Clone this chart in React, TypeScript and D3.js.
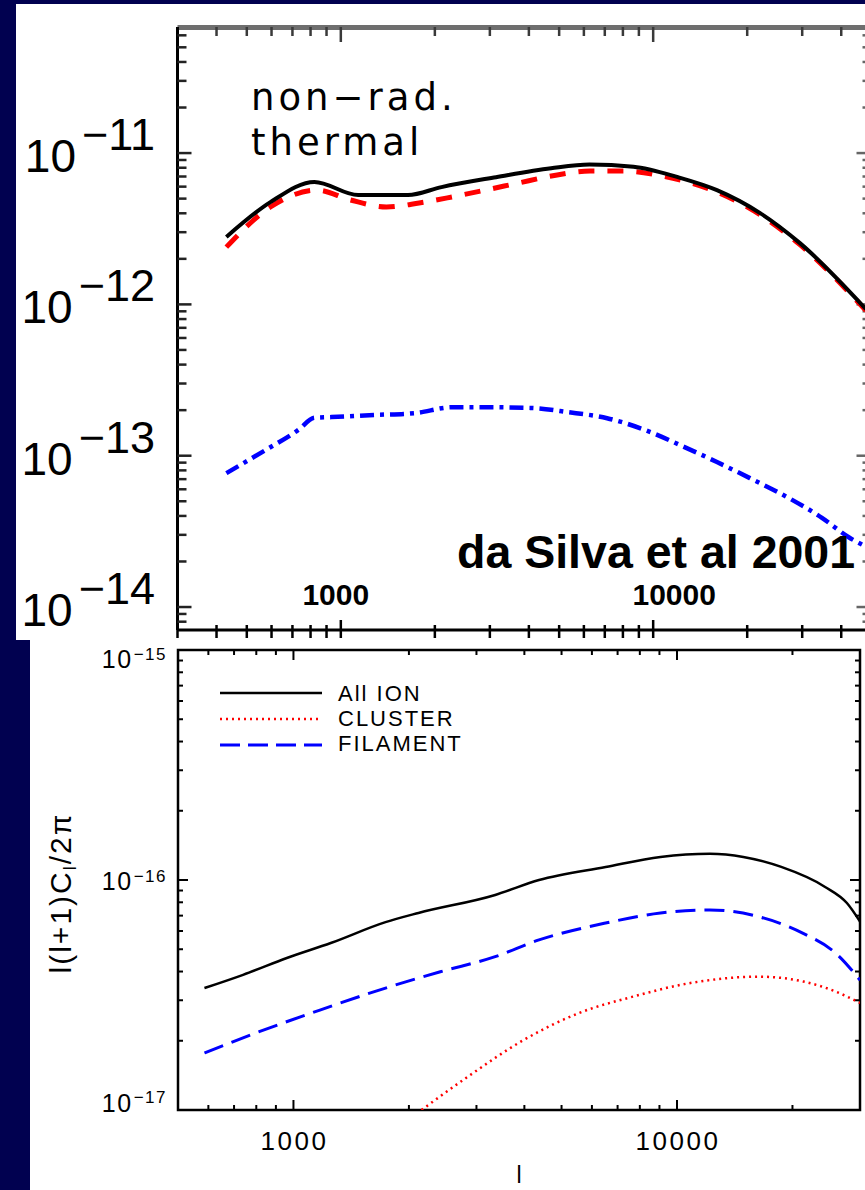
import * as d3 from "d3";

// upper panel: non-radiative thermal SZ spectrum (da Silva et al 2001)
const silvaTotalL = [430, 595, 823, 1137, 1640, 2100, 3140, 4710, 6250, 8650, 12000, 16000, 22000, 29500, 48000];
const silvaTotalV = [2.79e-12, 4.74e-12, 6.45e-12, 5.28e-12, 5.28e-12, 5.96e-12, 6.93e-12, 7.94e-12, 8.4e-12, 8.13e-12, 6.93e-12, 5.69e-12, 4.01e-12, 2.54e-12, 9.3e-13];
const silvaDashL = [430, 595, 841, 1073, 1400, 1780, 2270, 2900, 3700, 4720, 6280, 8000, 10700, 16000, 22100, 29500, 48000];
const silvaDashV = [2.39e-12, 4.4e-12, 5.69e-12, 4.9e-12, 4.4e-12, 4.68e-12, 5.13e-12, 5.69e-12, 6.34e-12, 7.05e-12, 7.6e-12, 7.6e-12, 7.05e-12, 5.53e-12, 3.89e-12, 2.48e-12, 9.1e-13];
const silvaDotDashL = [430, 574, 731, 823, 933, 1290, 1720, 2270, 2900, 4040, 5350, 7120, 9420, 12600, 16000, 20400, 27200, 34700, 42400, 48000];
const silvaDotDashV = [7.67e-14, 1.09e-13, 1.48e-13, 1.78e-13, 1.8e-13, 1.86e-13, 1.91e-13, 2.09e-13, 2.09e-13, 2.07e-13, 1.94e-13, 1.77e-13, 1.48e-13, 1.14e-13, 9.08e-14, 7.11e-14, 5.25e-14, 3.89e-14, 2.88e-14, 2.51e-14];
const silvaLabels = ["non\u2212rad.", "thermal"];
const silvaCredit = "da Silva et al 2001";
const topYExponents = [-11, -12, -13, -14];

// lower panel: ion components
const allIonL = [586, 739, 961, 1251, 1738, 2118, 3357, 4367, 6516, 9055, 12180, 14890, 18700, 24330, 27730, 30000];
const allIonV = [3.39e-17, 3.87e-17, 4.58e-17, 5.32e-17, 6.56e-17, 7.19e-17, 8.61e-17, 1.0e-16, 1.14e-16, 1.26e-16, 1.3e-16, 1.26e-16, 1.14e-16, 9.33e-17, 7.94e-17, 6.6e-17];
const clusterL = [2157, 2856, 3972, 5520, 7670, 10680, 16370, 21330, 25960, 30000];
const clusterV = [1.0e-17, 1.4e-17, 2.01e-17, 2.63e-17, 3.11e-17, 3.55e-17, 3.8e-17, 3.62e-17, 3.27e-17, 2.92e-17];
const filamentL = [586, 814, 1172, 1738, 2415, 3357, 4367, 6516, 9055, 12180, 16370, 21330, 25960, 30000];
const filamentV = [1.77e-17, 2.19e-17, 2.72e-17, 3.39e-17, 3.99e-17, 4.64e-17, 5.49e-17, 6.5e-17, 7.19e-17, 7.41e-17, 6.92e-17, 5.86e-17, 4.8e-17, 3.67e-17];
const legendNames = ["All ION", "CLUSTER", "FILAMENT"];
const bottomYExponents = [-15, -16, -17];

const xTickValues = [1000, 10000];
const xTickLabels = ["1000", "10000"];

const NAVY = "#010150";
const SANS = "'Liberation Sans', Arial, sans-serif";
const DEJAVU = "'DejaVu Sans', sans-serif";

const zip = (a: number[], b: number[]) => a.map((v, i) => [v, b[i]] as [number, number]);
const isDecade = (v: number) => {
  const l = Math.log10(v);
  return Math.abs(l - Math.round(l)) < 1e-6;
};

export default function App() {
  // upper panel scales
  const xT = d3.scaleLog().domain([300, 50000]).range([177.5, 871.5]);
  const yT = d3.scaleLog().domain([7.05e-15, 6.81e-11]).range([630, 27]);
  // lower panel scales
  const xB = d3.scaleLog().domain([500, 30000]).range([178, 860]);
  const yB = d3.scaleLog().domain([1e-17, 1e-15]).range([1110, 650]);

  const lineT = d3.line<[number, number]>()
    .x(d => xT(d[0]))
    .y(d => yT(d[1]))
    .curve(d3.curveMonotoneX);
  const lineB = d3.line<[number, number]>()
    .x(d => xB(d[0]))
    .y(d => yB(d[1]))
    .curve(d3.curveMonotoneX);

  const [tl, tr] = xT.range();
  const [tb, tt] = yT.range();
  const [bl, br] = xB.range();
  const [bb, bt] = yB.range();

  const legendColors = ["#000", "#ff0000", "#0000ff"];
  const legendDash = ["none", "2,4", "20,8"];
  const bottomLabelShift = [18, 10, 2];
  const bottomSupRaise = [8, 8, 9];

  return (
    <div style={{ position: "fixed", left: 0, top: 0, width: 865, height: 1190, overflow: "hidden" }}>
      <svg width={865} height={1190} style={{ display: "block" }}>
        <defs>
          <clipPath id="panelTop">
            <rect x={16} y={4} width={849} height={636} />
          </clipPath>
          <clipPath id="plotTop">
            <rect x={tl} y={tt} width={tr - tl} height={tb - tt} />
          </clipPath>
          <clipPath id="plotBot">
            <rect x={bl} y={bt} width={br - bl} height={bb - bt} />
          </clipPath>
        </defs>

        <rect width={865} height={1190} fill={NAVY} />
        <rect x={16} y={4} width={849} height={636} fill="#fff" />
        <rect x={30} y={640} width={835} height={550} fill="#fff" />

        {/* ---------- upper panel ---------- */}
        <g clipPath="url(#panelTop)">
          {/* top frame, grey */}
          <line x1={tl} x2={tr} y1={tt + 0.5} y2={tt + 0.5} stroke="#6e6e6e" strokeWidth={5} />
          {xT.ticks().map((v, i) => (
            <line key={"tt" + i} x1={xT(v)} x2={xT(v)} y1={tt} y2={tt + (isDecade(v) ? 15 : 9)}
              stroke="#3a3a3a" strokeWidth={2.5} />
          ))}
          {/* bottom axis */}
          <line x1={tl} x2={tr} y1={tb} y2={tb} stroke="#000" strokeWidth={3} />
          {xT.ticks().map((v, i) => (
            <line key={"tb" + i} x1={xT(v)} x2={xT(v)} y1={isDecade(v) ? tb - 10 : tb - 5} y2={tb + 8}
              stroke="#000" strokeWidth={2.5} />
          ))}
          {/* left axis */}
          <line x1={tl} x2={tl} y1={tt} y2={tb} stroke="#000" strokeWidth={3} />
          {yT.ticks().map((v, i) => (
            <line key={"yl" + i} x1={tl} x2={tl + (isDecade(v) ? 14 : 9)} y1={yT(v)} y2={yT(v)}
              stroke="#222" strokeWidth={2.5} />
          ))}
          {yT.ticks().map((v, i) => (
            <line key={"yr" + i} x1={tr} x2={tr - (isDecade(v) ? 15 : 9)} y1={yT(v)} y2={yT(v)}
              stroke="#666" strokeWidth={2.5} />
          ))}

          {/* y tick labels */}
          {topYExponents.map(e => (
            <text key={"tyl" + e} x={155} y={yT(Math.pow(10, e)) + 19} textAnchor="end"
              fontFamily={SANS} fontSize={46} fill="#000">
              10
              <tspan dx={6} dy={-22} fontSize={45}>{"\u2212" + Math.abs(e)}</tspan>
            </text>
          ))}

          {/* curves */}
          <g clipPath="url(#plotTop)" fill="none">
            <path d={lineT(zip(silvaDotDashL, silvaDotDashV)) ?? ""} stroke="#0000ff" strokeWidth={4.5}
              strokeDasharray="14,6,4,6" />
            <path d={lineT(zip(silvaDashL, silvaDashV)) ?? ""} stroke="#ff0000" strokeWidth={5}
              strokeDasharray="16,13" />
            <path d={lineT(zip(silvaTotalL, silvaTotalV)) ?? ""} stroke="#000" strokeWidth={4} />
          </g>

          {/* annotation */}
          {silvaLabels.map((s, i) => (
            <text key={s} x={251} y={110 + i * 45} fontFamily={DEJAVU} fontSize={37}
              letterSpacing={4} fill="#000">{s}</text>
          ))}
          <text x={457} y={568} fontFamily={SANS} fontWeight="bold" fontSize={46.5} fill="#000">
            {silvaCredit}
          </text>
          {xTickValues.map((v, i) => (
            <text key={"txl" + v} x={xT(v) + (i === 0 ? -5 : 21)} y={605} textAnchor="middle"
              fontFamily={SANS} fontWeight="bold" fontSize={30} fill="#000">{xTickLabels[i]}</text>
          ))}
        </g>

        {/* ---------- lower panel ---------- */}
        <rect x={bl} y={bt} width={br - bl} height={bb - bt} fill="none" stroke="#000" strokeWidth={2.5} />
        {xB.ticks().map((v, i) => {
          const len = isDecade(v) ? 10 : 5;
          return (
            <g key={"bx" + i} stroke="#000" strokeWidth={2}>
              <line x1={xB(v)} x2={xB(v)} y1={bb} y2={bb - len} />
              <line x1={xB(v)} x2={xB(v)} y1={bt} y2={bt + len} />
            </g>
          );
        })}
        {yB.ticks().map((v, i) => {
          const len = isDecade(v) ? 10 : 5;
          return (
            <g key={"by" + i} stroke="#000" strokeWidth={2}>
              <line x1={bl} x2={bl + len} y1={yB(v)} y2={yB(v)} />
              <line x1={br} x2={br - len} y1={yB(v)} y2={yB(v)} />
            </g>
          );
        })}

        {bottomYExponents.map((e, i) => (
          <text key={"byl" + e} x={167} y={yB(Math.pow(10, e)) + bottomLabelShift[i]} textAnchor="end"
            fontFamily={SANS} fontSize={25} letterSpacing={1.5} fill="#000">
            10
            <tspan dx={1} dy={-bottomSupRaise[i]} fontSize={17} letterSpacing={1.5}>{"\u2212" + Math.abs(e)}</tspan>
          </text>
        ))}
        {xTickValues.map((v, i) => (
          <text key={"bxl" + v} x={xB(v) + 1} y={1150} textAnchor="middle"
            fontFamily={SANS} fontSize={26} letterSpacing={2.5} fill="#000">{xTickLabels[i]}</text>
        ))}
        <text x={(bl + br) / 2} y={1183} textAnchor="middle" fontFamily={SANS} fontSize={23} fill="#000">l</text>
        <text transform="translate(71,893) rotate(-90)" textAnchor="middle" fontFamily={SANS}
          fontSize={30} letterSpacing={2} fill="#000">
          l(l+1)C<tspan fontSize={18} dy={5}>l</tspan><tspan dy={-5}>/2π</tspan>
        </text>

        <g clipPath="url(#plotBot)" fill="none">
          <path d={lineB(zip(clusterL, clusterV)) ?? ""} stroke="#ff0000" strokeWidth={2.5} strokeDasharray="2,4" />
          <path d={lineB(zip(filamentL, filamentV)) ?? ""} stroke="#0000ff" strokeWidth={3} strokeDasharray="20,9" />
          <path d={lineB(zip(allIonL, allIonV)) ?? ""} stroke="#000" strokeWidth={2.5} />
        </g>

        {/* legend */}
        {legendNames.map((name, i) => (
          <g key={name}>
            <line x1={220} x2={322} y1={693 + i * 26} y2={693 + i * 26} stroke={legendColors[i]}
              strokeWidth={i === 2 ? 3 : 2.5}
              strokeDasharray={legendDash[i] === "none" ? undefined : legendDash[i]} />
            <text x={338} y={701 + i * 25} fontFamily={SANS} fontSize={22} letterSpacing={2} fill="#000">{name}</text>
          </g>
        ))}
      </svg>
    </div>
  );
}
